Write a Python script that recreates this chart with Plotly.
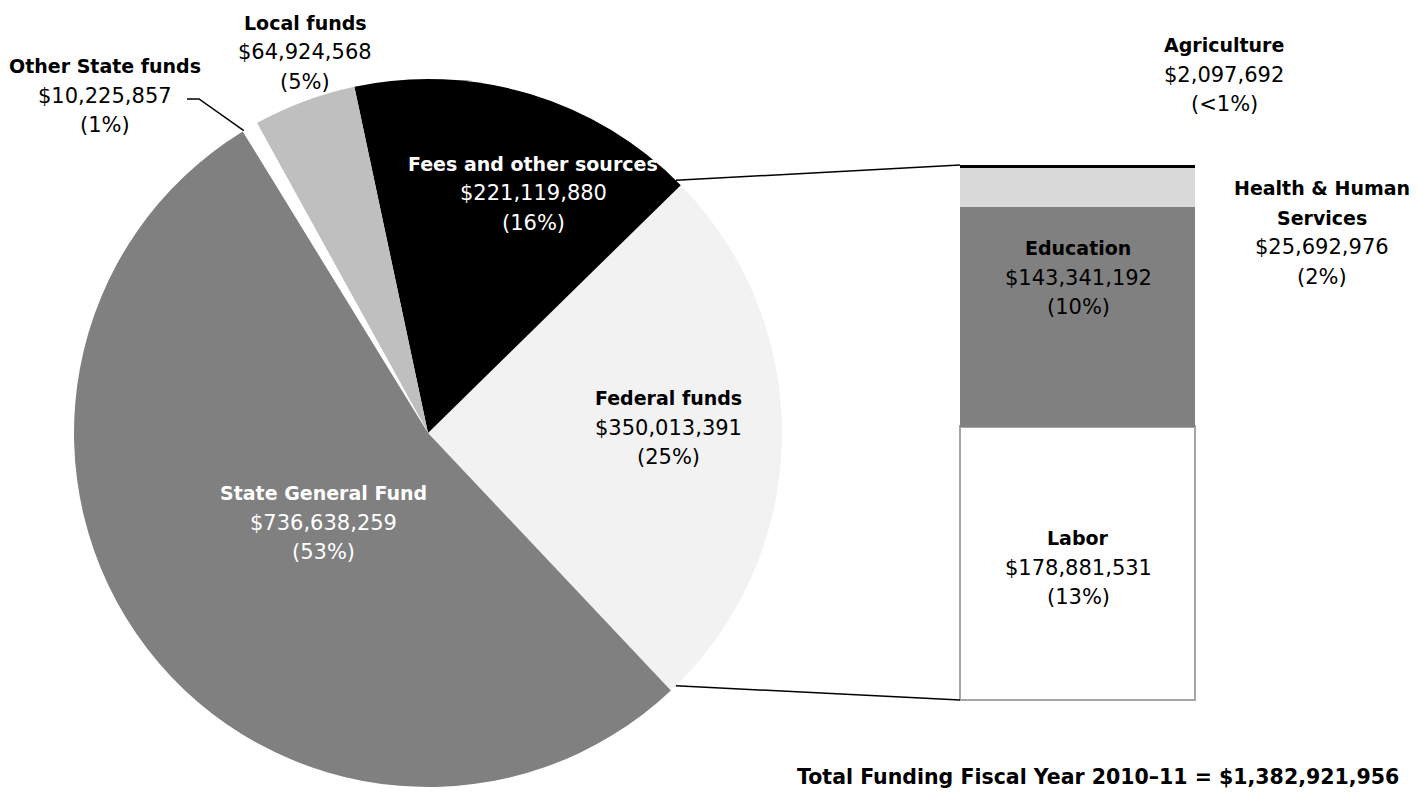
import math
import plotly.graph_objects as go

W, H = 1418, 792
OFF = 8  # page body margin
FW, FH = W - OFF, H - OFF

# ---- data ----
sources = ["Federal funds", "Fees and other sources", "Local funds", "Other State funds", "State General Fund"]
source_values = [350013391, 221119880, 64924568, 10225857, 736638259]
source_pct = ["(25%)", "(16%)", "(5%)", "(1%)", "(53%)"]
source_colors = ["#f2f2f2", "#000000", "#bfbfbf", "#ffffff", "#808080"]

fed_cats = ["Labor", "Education", "Health & Human Services", "Agriculture"]
fed_values = [178881531, 143341192, 25692976, 2097692]
fed_pct = ["(13%)", "(10%)", "(2%)", "(<1%)"]
fed_colors = ["#ffffff", "#808080", "#d9d9d9", "#000000"]

total_label = "Total Funding Fiscal Year 2010\u201311 = $1,382,921,956"

FONT = "DejaVu Sans"
FS_REG = 21
FS_BOLD = 19
FS_TOTAL = 20.5

# ---- geometry (screen pixels) ----
cx, cy, r = 428, 433, 354
bar_x0, bar_x1, bar_top, bar_bot = 960, 1195, 165, 700
PAD = 5  # px of room around the bar so its outline is not clipped

def px(x):
    return (x - OFF) / FW

def py(y):
    return 1 - (y - OFF) / FH

total = sum(source_values)
fed_frac = source_values[0] / total
rotation = fed_frac * 360 / 2

fig = go.Figure()
fig.add_trace(go.Pie(
    labels=sources, values=source_values, sort=False, direction="counterclockwise",
    rotation=rotation, marker=dict(colors=source_colors, line=dict(width=0)),
    textinfo="none", hoverinfo="label+value", showlegend=False,
    domain=dict(x=[px(cx - r), px(cx + r)], y=[py(cy + r), py(cy - r)]),
))

for cat, val, col in zip(fed_cats, fed_values, fed_colors):
    lw = 2.5 if cat == "Labor" else 0
    fig.add_trace(go.Bar(
        x=[0], y=[val], width=1, name=cat, showlegend=False,
        marker=dict(color=col, line=dict(color="#a6a6a6", width=lw)),
        xaxis="x", yaxis="y",
    ))

fed_total = sum(fed_values)
xpad = PAD / (bar_x1 - bar_x0)
ypad = PAD * fed_total / (bar_bot - bar_top)

fig.update_layout(
    width=FW, height=FH, margin=dict(l=0, r=0, t=0, b=0),
    paper_bgcolor="white", plot_bgcolor="rgba(0,0,0,0)", barmode="stack",
    xaxis=dict(domain=[px(bar_x0 - PAD), px(bar_x1 + PAD)], range=[-0.5 - xpad, 0.5 + xpad],
               visible=False, fixedrange=True),
    yaxis=dict(domain=[py(bar_bot + PAD), py(bar_top - PAD)], range=[-ypad, fed_total + ypad],
               visible=False, fixedrange=True),
    font=dict(family=FONT, size=FS_REG, color="black"),
)

# connector lines from federal slice edges to bar corners
half = fed_frac * math.pi
p_top = (cx + r * math.cos(half), cy - r * math.sin(half))
p_bot = (cx + r * math.cos(half), cy + r * math.sin(half))
shapes = [
    dict(type="line", xref="paper", yref="paper", x0=px(p_top[0]), y0=py(p_top[1]),
         x1=px(bar_x0), y1=py(bar_top), line=dict(color="black", width=1.5)),
    dict(type="line", xref="paper", yref="paper", x0=px(p_bot[0]), y0=py(p_bot[1]),
         x1=px(bar_x0), y1=py(bar_bot), line=dict(color="black", width=1.5)),
]
# leader for Other State funds
cum = sum(source_values[:3]) + source_values[3] / 2
ang = -half + cum / total * 2 * math.pi
edge = (cx + r * math.cos(ang), cy - r * math.sin(ang))
shapes.append(dict(type="path", xref="paper", yref="paper",
                   path=f"M {px(187)},{py(99)} L {px(199)},{py(99)} L {px(edge[0])},{py(edge[1])}",
                   line=dict(color="black", width=1.5)))
fig.update_layout(shapes=shapes)

def money(v):
    return "${:,}".format(v)

def label(lines, x, y0, color="black", step=29.5):
    for i, (txt, bold) in enumerate(lines):
        t = f"<b>{txt}</b>" if bold else txt
        fig.add_annotation(x=px(x), y=py(y0 + i * step), xref="paper", yref="paper",
                           text=t, showarrow=False, xanchor="center", yanchor="middle",
                           font=dict(family=FONT, size=FS_BOLD if bold else FS_REG, color=color))

label([(sources[0], True), (money(source_values[0]), False), (source_pct[0], False)], 668, 398)
label([(sources[1], True), (money(source_values[1]), False), (source_pct[1], False)], 533, 164, "white")
label([(sources[2], True), (money(source_values[2]), False), (source_pct[2], False)], 305, 23)
label([(sources[3], True), (money(source_values[3]), False), (source_pct[3], False)], 105, 66)
label([(sources[4], True), (money(source_values[4]), False), (source_pct[4], False)], 323, 493, "white")

label([(fed_cats[0], True), (money(fed_values[0]), False), (fed_pct[0], False)], 1078, 538)
label([(fed_cats[1], True), (money(fed_values[1]), False), (fed_pct[1], False)], 1078, 248)
label([("Health & Human", True), ("Services", True), (money(fed_values[2]), False), (fed_pct[2], False)], 1322, 188)
label([(fed_cats[3], True), (money(fed_values[3]), False), (fed_pct[3], False)], 1224, 45)

fig.add_annotation(x=px(1098), y=py(777), xref="paper", yref="paper", text=f"<b>{total_label}</b>",
                   showarrow=False, xanchor="center", yanchor="middle", font=dict(family=FONT, size=FS_TOTAL))

fig.write_html("out.html")
